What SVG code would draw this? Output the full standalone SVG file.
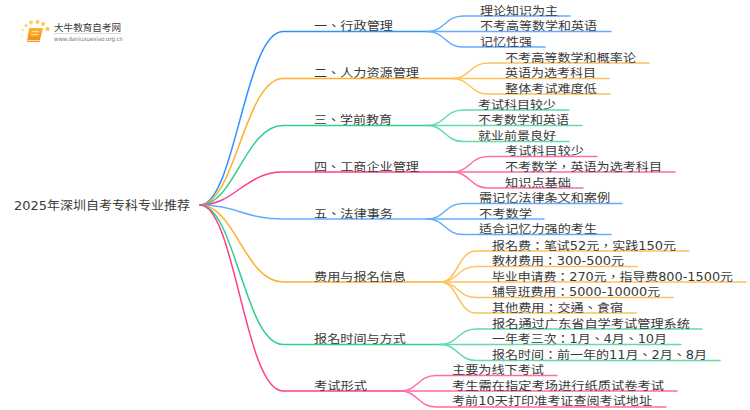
<svg xmlns="http://www.w3.org/2000/svg" width="750" height="410" viewBox="0 0 750 410">
<defs><linearGradient id="bk" x1="0" y1="0" x2="0" y2="1"><stop offset="0" stop-color="#fbb62a"/><stop offset="1" stop-color="#f08a14"/></linearGradient></defs>
<style>
text{font-family:"DejaVu Sans","Noto Sans CJK TC",sans-serif;font-size:11.5px;fill:#3a3a3a;}
.r{font-size:12px}
path{fill:none;stroke-width:1.5;stroke-linecap:round}
.b{stroke:#2e92ff}.o{stroke:#fdb02c}.g{stroke:#2fd08a}.p{stroke:#ff3d8f}
.bl{stroke:#62adff}.ol{stroke:#fdc25c}.gl{stroke:#62dcaa}.pl{stroke:#ff6ca8}
</style>
<rect width="750" height="410" fill="#fff"/>
<g id="logo">
<circle cx="23" cy="30" r="1.300" fill="#fde3a0"/><circle cx="26" cy="25.500" r="1.700" fill="#fdd98a"/><circle cx="31" cy="22.500" r="2" fill="#fdd070"/><circle cx="37.500" cy="22" r="2" fill="#fdc95c"/><circle cx="43" cy="24" r="2" fill="#fdc95c"/><circle cx="47.500" cy="29" r="2.200" fill="#fdc95c"/><circle cx="22" cy="36.500" r="1.300" fill="#fdeac0"/><circle cx="23.500" cy="42.500" r="1" fill="#fdf0d5"/>
<polygon points="29,28 43,28 39.500,42 27,42" style="fill:url(#bk)"/>
<rect x="27.500" y="40" width="12" height="1.200" fill="#fde0a8"/>
<polygon points="32,31 39,31 38.700,32.300 31.700,32.300" fill="#fde0a8"/><polygon points="31.300,34 38.300,34 38,35.300 31,35.300" fill="#fde0a8"/>
<text x="54" y="31" textLength="67" lengthAdjust="spacingAndGlyphs" style="font-size:9.500px">大牛教育自考网</text>
<rect x="54" y="33" width="67" height="0.700" fill="#ccc"/>
<text x="54" y="41" textLength="69" lengthAdjust="spacingAndGlyphs" style="font-size:6px;fill:#777">www.daniuxuexiao.org.cn</text>
</g>
<g id="connectors">
<path class="b" d="M200 205C235 205 245 31.500 283 31.500H427"/>
<path class="o" d="M200 205C235 205 245 78.500 283 78.500H452"/>
<path class="g" d="M200 205C235 205 245 125.500 283 125.500H427"/>
<path class="p" d="M200 205C235 205 245 172 283 172H452"/>
<path class="bl" d="M200 205C235 205 245 219 283 219H427"/>
<path class="o" d="M200 205C235 205 245 282 283 282H440"/>
<path class="g" d="M200 205C235 205 245 344.500 283 344.500H440"/>
<path class="p" d="M200 205C235 205 245 391 283 391H400"/>
<path class="bl" d="M427 31.500C445 31.500 445 16 463 16H570"/>
<path class="bl" d="M427 31.500H611"/>
<path class="bl" d="M427 31.500C445 31.500 445 47 463 47H545"/>
<path class="ol" d="M452 78.500C470 78.500 470 63 488 63H649"/>
<path class="ol" d="M452 78.500H609"/>
<path class="ol" d="M452 78.500C470 78.500 470 94 488 94H610"/>
<path class="gl" d="M427 125.500C445 125.500 445 110 463 110H569"/>
<path class="gl" d="M427 125.500H582"/>
<path class="gl" d="M427 125.500C445 125.500 445 141.500 463 141.500H569"/>
<path class="pl" d="M452 172C470 172 470 156.500 488 156.500H597"/>
<path class="pl" d="M452 172H675"/>
<path class="pl" d="M452 172C470 172 470 188 488 188H583"/>
<path class="bl" d="M427 219C445 219 445 203.500 463 203.500H622"/>
<path class="bl" d="M427 219H544"/>
<path class="bl" d="M427 219C445 219 445 234.500 463 234.500H611"/>
<path class="ol" d="M440 282C458 282 458 251 476 251H689"/>
<path class="ol" d="M440 282C458 282 458 266.500 476 266.500H637"/>
<path class="ol" d="M440 282H746"/>
<path class="ol" d="M440 282C458 282 458 297.500 476 297.500H673"/>
<path class="ol" d="M440 282C458 282 458 313 476 313H636"/>
<path class="gl" d="M440 344.500C458 344.500 458 329 476 329H702"/>
<path class="gl" d="M440 344.500H681"/>
<path class="gl" d="M440 344.500C458 344.500 458 360.500 476 360.500H720"/>
<path class="pl" d="M400 391C418 391 418 375.500 436 375.500H557"/>
<path class="pl" d="M400 391H677"/>
<path class="pl" d="M400 391C418 391 418 407 436 407H666"/>
</g>
<g id="root"><text class="r" x="14" y="209.500" textLength="176" lengthAdjust="spacingAndGlyphs">2025年深圳自考专科专业推荐</text></g>
<g id="n1"><text x="314" y="30" textLength="79" lengthAdjust="spacingAndGlyphs">一、行政管理</text></g>
<g id="n2"><text x="314" y="77" textLength="105" lengthAdjust="spacingAndGlyphs">二、人力资源管理</text></g>
<g id="n3"><text x="314" y="124" textLength="78" lengthAdjust="spacingAndGlyphs">三、学前教育</text></g>
<g id="n4"><text x="314" y="170.500" textLength="105" lengthAdjust="spacingAndGlyphs">四、工商企业管理</text></g>
<g id="n5"><text x="314" y="217.500" textLength="79" lengthAdjust="spacingAndGlyphs">五、法律事务</text></g>
<g id="n6"><text x="314" y="280.500" textLength="92" lengthAdjust="spacingAndGlyphs">费用与报名信息</text></g>
<g id="n7"><text x="314" y="343" textLength="92" lengthAdjust="spacingAndGlyphs">报名时间与方式</text></g>
<g id="n8"><text x="314" y="389.500" textLength="53" lengthAdjust="spacingAndGlyphs">考试形式</text></g>
<g id="n1a"><text x="480" y="14.500" textLength="78" lengthAdjust="spacingAndGlyphs">理论知识为主</text></g>
<g id="n1b"><text x="480" y="30" textLength="117" lengthAdjust="spacingAndGlyphs">不考高等数学和英语</text></g>
<g id="n1c"><text x="480" y="45.500" textLength="52" lengthAdjust="spacingAndGlyphs">记忆性强</text></g>
<g id="n2a"><text x="505" y="61.500" textLength="131" lengthAdjust="spacingAndGlyphs">不考高等数学和概率论</text></g>
<g id="n2b"><text x="505" y="77" textLength="91" lengthAdjust="spacingAndGlyphs">英语为选考科目</text></g>
<g id="n2c"><text x="505" y="92.500" textLength="92" lengthAdjust="spacingAndGlyphs">整体考试难度低</text></g>
<g id="n3a"><text x="478" y="108.500" textLength="78" lengthAdjust="spacingAndGlyphs">考试科目较少</text></g>
<g id="n3b"><text x="478" y="124" textLength="91" lengthAdjust="spacingAndGlyphs">不考数学和英语</text></g>
<g id="n3c"><text x="478" y="139.500" textLength="78" lengthAdjust="spacingAndGlyphs">就业前景良好</text></g>
<g id="n4a"><text x="505" y="155" textLength="79" lengthAdjust="spacingAndGlyphs">考试科目较少</text></g>
<g id="n4b"><text x="505" y="170.500" textLength="157" lengthAdjust="spacingAndGlyphs">不考数学，英语为选考科目</text></g>
<g id="n4c"><text x="505" y="186.500" textLength="66" lengthAdjust="spacingAndGlyphs">知识点基础</text></g>
<g id="n5a"><text x="479" y="202" textLength="131" lengthAdjust="spacingAndGlyphs">需记忆法律条文和案例</text></g>
<g id="n5b"><text x="479" y="217.500" textLength="53" lengthAdjust="spacingAndGlyphs">不考数学</text></g>
<g id="n5c"><text x="479" y="233" textLength="118" lengthAdjust="spacingAndGlyphs">适合记忆力强的考生</text></g>
<g id="n6a"><text x="492" y="249.500" textLength="184" lengthAdjust="spacingAndGlyphs">报名费：笔试52元，实践150元</text></g>
<g id="n6b"><text x="492" y="265" textLength="132" lengthAdjust="spacingAndGlyphs">教材费用：300-500元</text></g>
<g id="n6c"><text x="492" y="280.500" textLength="241" lengthAdjust="spacingAndGlyphs">毕业申请费：270元，指导费800-1500元</text></g>
<g id="n6d"><text x="492" y="296" textLength="168" lengthAdjust="spacingAndGlyphs">辅导班费用：5000-10000元</text></g>
<g id="n6e"><text x="492" y="311.500" textLength="131" lengthAdjust="spacingAndGlyphs">其他费用：交通、食宿</text></g>
<g id="n7a"><text x="492" y="327.500" textLength="198" lengthAdjust="spacingAndGlyphs">报名通过广东省自学考试管理系统</text></g>
<g id="n7b"><text x="492" y="343" textLength="175" lengthAdjust="spacingAndGlyphs">一年考三次：1月、4月、10月</text></g>
<g id="n7c"><text x="492" y="358.500" textLength="215" lengthAdjust="spacingAndGlyphs">报名时间：前一年的11月、2月、8月</text></g>
<g id="n8a"><text x="452" y="374" textLength="92" lengthAdjust="spacingAndGlyphs">主要为线下考试</text></g>
<g id="n8b"><text x="452" y="389.500" textLength="212" lengthAdjust="spacingAndGlyphs">考生需在指定考场进行纸质试卷考试</text></g>
<g id="n8c"><text x="452" y="405" textLength="200" lengthAdjust="spacingAndGlyphs">考前10天打印准考证查阅考试地址</text></g>
</svg>
